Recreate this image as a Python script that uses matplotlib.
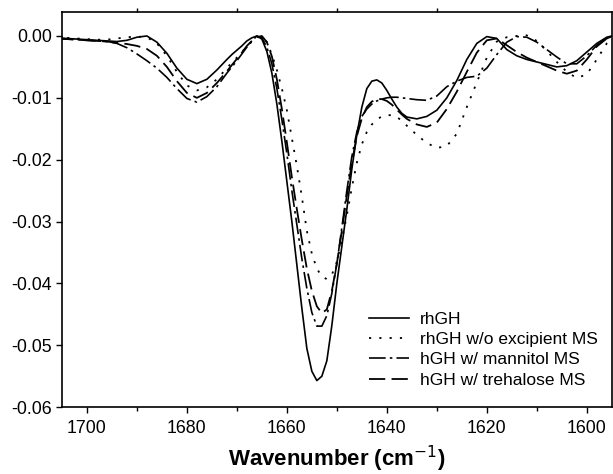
import numpy as np
import matplotlib
matplotlib.use('Agg')
import matplotlib.pyplot as plt
from matplotlib.ticker import MultipleLocator

plt.rcParams['font.family'] = ['Liberation Sans', 'DejaVu Sans']

#%% datos (segunda derivada, amida I)
wavenumber = [1706, 1704, 1702, 1700, 1698, 1696, 1694, 1692, 1690, 1688,
              1686, 1684, 1682, 1680, 1678, 1676, 1674, 1672,
              1671, 1670, 1669, 1668, 1667, 1666, 1665, 1664, 1663, 1662,
              1661, 1660, 1659, 1658, 1657, 1656, 1655, 1654, 1653, 1652,
              1651, 1650, 1649, 1648, 1647, 1646, 1645, 1644, 1643, 1642,
              1641, 1640, 1639, 1638, 1637, 1636,
              1634, 1632, 1630, 1628, 1626, 1624, 1622, 1620, 1618, 1616,
              1614, 1612, 1610, 1608, 1606, 1604, 1602, 1600, 1598, 1596, 1594]

rhgh = [-0.0003, -0.0004, -0.0005, -0.0006, -0.0007, -0.0008, -0.0009, -0.0007, -0.0002, 0.0000,
        -0.0010, -0.0028, -0.0052, -0.0070, -0.0077, -0.0070, -0.0055, -0.0038,
        -0.0030, -0.0023, -0.0016, -0.0008, -0.0003, 0.0000, -0.0005, -0.0025, -0.0060, -0.0110,
        -0.0170, -0.0235, -0.0300, -0.0370, -0.0440, -0.0505, -0.0542, -0.0557, -0.0550, -0.0525,
        -0.0468, -0.0400, -0.0340, -0.0280, -0.0215, -0.0160, -0.0115, -0.0085, -0.0073, -0.0071,
        -0.0076, -0.0088, -0.0102, -0.0115, -0.0125, -0.0131,
        -0.0134, -0.0130, -0.0120, -0.0100, -0.0072, -0.0038, -0.0012, -0.0001, -0.0004, -0.0022,
        -0.0032, -0.0038, -0.0042, -0.0046, -0.0050, -0.0048, -0.0040, -0.0026, -0.0012, -0.0002, 0.0002]

rhgh_sin_excip = [-0.0002, -0.0003, -0.0004, -0.0005, -0.0006, -0.0006, -0.0004, -0.0002, -0.0001, -0.0002,
                  -0.0012, -0.0032, -0.0058, -0.0080, -0.0088, -0.0083, -0.0070, -0.0052,
                  -0.0043, -0.0035, -0.0026, -0.0017, -0.0009, -0.0003, 0.0000, -0.0010, -0.0030, -0.0055,
                  -0.0085, -0.0120, -0.0165, -0.0210, -0.0260, -0.0315, -0.0352, -0.0376, -0.0389, -0.0393,
                  -0.0386, -0.0365, -0.0330, -0.0290, -0.0245, -0.0205, -0.0175, -0.0155, -0.0143, -0.0135,
                  -0.0130, -0.0128, -0.0128, -0.0131, -0.0137, -0.0145,
                  -0.0160, -0.0173, -0.0181, -0.0178, -0.0158, -0.0115, -0.0075, -0.0035, -0.0009, -0.0002,
                  0.0000, 0.0001, -0.0008, -0.0024, -0.0042, -0.0058, -0.0068, -0.0062, -0.0038, -0.0012, 0.0000]

manitol = [-0.0004, -0.0005, -0.0006, -0.0007, -0.0008, -0.0009, -0.0012, -0.0019, -0.0029, -0.0040,
           -0.0052, -0.0067, -0.0085, -0.0101, -0.0107, -0.0098, -0.0082, -0.0060,
           -0.0050, -0.0040, -0.0029, -0.0018, -0.0008, 0.0000, -0.0003, -0.0018, -0.0045, -0.0085,
           -0.0135, -0.0190, -0.0250, -0.0305, -0.0360, -0.0408, -0.0447, -0.0469, -0.0469, -0.0452,
           -0.0416, -0.0368, -0.0310, -0.0250, -0.0195, -0.0155, -0.0130, -0.0118, -0.0110, -0.0105,
           -0.0102, -0.0100, -0.0099, -0.0099, -0.0100, -0.0101,
           -0.0103, -0.0104, -0.0097, -0.0082, -0.0073, -0.0067, -0.0065, -0.0052, -0.0030, -0.0010,
           -0.0001, -0.0002, -0.0010, -0.0022, -0.0034, -0.0045, -0.0045, -0.0032, -0.0015, -0.0004, 0.0002]

trehalosa = [-0.0004, -0.0005, -0.0006, -0.0007, -0.0008, -0.0009, -0.0011, -0.0013, -0.0016, -0.0021,
             -0.0032, -0.0050, -0.0073, -0.0092, -0.0100, -0.0092, -0.0076, -0.0057,
             -0.0047, -0.0037, -0.0027, -0.0016, -0.0008, -0.0002, 0.0000, -0.0010, -0.0033, -0.0070,
             -0.0118, -0.0172, -0.0228, -0.0280, -0.0330, -0.0376, -0.0412, -0.0437, -0.0448, -0.0442,
             -0.0412, -0.0368, -0.0315, -0.0258, -0.0205, -0.0162, -0.0133, -0.0115, -0.0106, -0.0102,
             -0.0102, -0.0105, -0.0111, -0.0119, -0.0127, -0.0134,
             -0.0143, -0.0147, -0.0140, -0.0118, -0.0090, -0.0058, -0.0027, -0.0007, -0.0004, -0.0015,
             -0.0026, -0.0035, -0.0042, -0.0049, -0.0056, -0.0061, -0.0056, -0.0038, -0.0017, -0.0004, 0.0001]

etiquetas = ['rhGH', 'rhGH w/o excipient MS', 'hGH w/ mannitol MS', 'hGH w/ trehalose MS']

#%% grafico
fig = plt.figure(figsize=(6.13, 4.74), dpi=100)
ax = fig.add_axes([0.101, 0.141, 0.897, 0.834])

ax.plot(wavenumber, rhgh, color='black', lw=1.2, ls='-', label=etiquetas[0])
ax.plot(wavenumber, rhgh_sin_excip, color='black', lw=1.3, ls=(0, (1.2, 4.5)), label=etiquetas[1])
ax.plot(wavenumber, manitol, color='black', lw=1.2, ls=(0, (10, 2.5, 1.5, 2.5)), label=etiquetas[2])
ax.plot(wavenumber, trehalosa, color='black', lw=1.3, ls=(0, (9, 3.5)), label=etiquetas[3])

ax.set_xlim(1705, 1595)
ax.set_ylim(-0.06, 0.0039)
ax.xaxis.set_major_locator(MultipleLocator(20))
ax.xaxis.set_minor_locator(MultipleLocator(10))
ax.yaxis.set_major_locator(MultipleLocator(0.01))
ax.yaxis.set_major_formatter(matplotlib.ticker.FormatStrFormatter('%.2f'))
ax.tick_params(axis='both', which='major', direction='out', length=4, width=1, labelsize=12.8)
ax.tick_params(axis='y', which='major', pad=3)
ax.tick_params(axis='x', which='minor', direction='out', length=3, width=1, top=True)
ax.tick_params(axis='x', which='major', pad=5)
for s in ax.spines.values():
    s.set_linewidth(1.2)

ax.set_xlabel('Wavenumber (cm$^{-1}$)', fontsize=16, fontweight='bold', labelpad=5)

ax.legend(loc='lower right', bbox_to_anchor=(0.99, 0.027), frameon=False, fontsize=12.5,
          handlelength=2.3, handletextpad=0.6, labelspacing=0.3, borderpad=0)

fig.savefig('out.png', dpi=100)
